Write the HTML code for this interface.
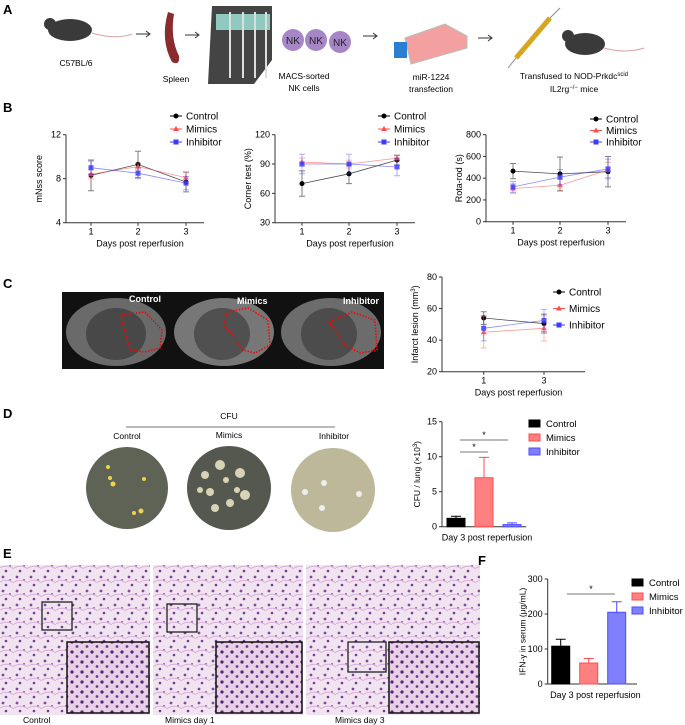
<!DOCTYPE html>
<html><head><meta charset="utf-8"><style>
body{margin:0;width:685px;height:725px;background:#fff;overflow:hidden;font-family:"Liberation Sans",sans-serif}
svg{position:absolute;left:0;top:0}
</style></head><body>
<svg id="fig" width="685" height="725" viewBox="0 0 685 725" font-family="Liberation Sans, sans-serif">
<defs>
<pattern id="he" width="14" height="14" patternUnits="userSpaceOnUse">
<rect width="14" height="14" fill="#f1e4f0"/>
<circle cx="3" cy="3" r="1.4" fill="#7a4d9a"/><circle cx="10" cy="6" r="1.1" fill="#9a6ab8"/>
<circle cx="6" cy="11" r="1.3" fill="#6a4090"/><path d="M0 8 Q7 4 14 9" stroke="#d9b0d9" fill="none"/>
</pattern>
<pattern id="he2" width="10" height="10" patternUnits="userSpaceOnUse">
<rect width="10" height="10" fill="#ead0e6"/>
<circle cx="2" cy="2" r="1.6" fill="#4a2578"/><circle cx="7" cy="6.5" r="1.4" fill="#6a3a90"/>
</pattern>
</defs>
<g font-weight="bold" font-size="13">
<text x="3" y="14">A</text>
<text x="3" y="112">B</text>
<text x="3" y="288">C</text>
<text x="3" y="418">D</text>
<text x="3" y="558">E</text>
<text x="478" y="565">F</text>
</g>
<!-- Panel A -->
<g font-size="8.5" text-anchor="middle">
<ellipse cx="70" cy="30" rx="22" ry="11" fill="#3a3a3a"/><circle cx="50" cy="24" r="6" fill="#3a3a3a"/>
<path d="M92 33 Q115 40 132 34" stroke="#d9a3a3" fill="none"/>
<path d="M136 34 h14 M146 31 l4 3 -4 3" stroke="#333" fill="none"/>
<path d="M168 12 Q160 40 172 62 Q180 66 179 56 Q170 38 174 14 Z" fill="#8a2c2c"/>
<path d="M185 35 h14 M195 32 l4 3 -4 3" stroke="#333" fill="none"/>
<path d="M212 6 h60 v54 l-18 24 h-46 z" fill="#444"/>
<rect x="216" y="14" width="54" height="16" fill="#8fc9c0"/>
<g stroke="#ddd" stroke-width="2"><path d="M230 12 v66 M243 12 v66 M255 12 v66 M266 12 v66"/></g>
<circle cx="293" cy="40" r="11" fill="#a786c8"/><circle cx="316" cy="40" r="11" fill="#a786c8"/><circle cx="340" cy="42" r="11" fill="#a786c8"/>
<g font-size="10" fill="#222"><text x="293" y="44">NK</text><text x="316" y="44">NK</text><text x="340" y="46">NK</text></g>
<path d="M363 36 h14 M373 33 l4 3 -4 3" stroke="#333" fill="none"/>
<path d="M405 38 l40 -14 l22 12 v12 l-56 16 z" fill="#f2a0a0" stroke="#bbb"/>
<rect x="394" y="42" width="13" height="16" fill="#2a7fd0"/>
<path d="M478 38 h14 M488 35 l4 3 -4 3" stroke="#333" fill="none"/>
<path d="M516 58 L550 18" stroke="#d7a520" stroke-width="5"/>
<path d="M516 58 L508 68 M550 18 L560 8" stroke="#888"/>
<ellipse cx="585" cy="44" rx="20" ry="11" fill="#3a3a3a"/><circle cx="568" cy="36" r="6" fill="#3a3a3a"/>
<path d="M604 48 Q625 54 644 48" stroke="#d9a3a3" fill="none"/>
<text x="76" y="66">C57BL/6</text><text x="176" y="82">Spleen</text>
<text x="304" y="79">MACS-sorted</text><text x="304" y="91">NK cells</text>
<text x="431" y="80">miR-1224</text><text x="431" y="92">transfection</text>
<text x="574" y="79">Transfused to NOD-Prkdc<tspan font-size="6" dy="-3">scid</tspan></text>
<text x="574" y="92">IL2rg<tspan font-size="6" dy="-3">−/−</tspan><tspan dy="3"> mice</tspan></text>
</g>
<!-- Panel C MRI -->
<g>
<rect x="62" y="292" width="322" height="77" fill="#111"/>
<ellipse cx="116" cy="332" rx="50" ry="34" fill="#6a6a6a"/><ellipse cx="116" cy="334" rx="30" ry="26" fill="#484848"/>
<ellipse cx="224" cy="332" rx="50" ry="34" fill="#777"/><ellipse cx="222" cy="334" rx="28" ry="26" fill="#505050"/>
<ellipse cx="331" cy="332" rx="50" ry="34" fill="#6c6c6c"/><ellipse cx="329" cy="334" rx="28" ry="26" fill="#4c4c4c"/>
<g fill="none" stroke="#f00" stroke-width="1.5" stroke-dasharray="1.5 1.5">
<path d="M121 315 L145 312 L162 330 L160 348 L145 352 L130 350 L127 338 L123 325 Z"/>
<path d="M227 312 L248 308 L268 320 L270 345 L255 353 L243 350 L233 336 L224 326 Z"/>
<path d="M329 322 L352 312 L375 320 L377 350 L360 353 L345 345 L337 333 Z"/>
</g>
<g fill="#fff" font-weight="bold" font-size="9"><text x="129" y="302">Control</text><text x="237" y="304">Mimics</text><text x="343" y="304">Inhibitor</text></g>
</g>
<!-- Panel D plates -->
<g font-size="8.5" text-anchor="middle">
<text x="229" y="419">CFU</text><line x1="126" y1="427" x2="335" y2="427" stroke="#777"/>
<text x="127" y="439">Control</text><text x="229" y="438">Mimics</text><text x="334" y="439">Inhibitor</text>
<circle cx="127" cy="488" r="41" fill="#5f6356"/>
<circle cx="229" cy="488" r="42" fill="#55584f"/>
<circle cx="333" cy="490" r="42" fill="#bdb899"/>
<g fill="#f2d24a"><circle cx="108" cy="467" r="2"/><circle cx="110" cy="478" r="2"/><circle cx="113" cy="484" r="2.5"/><circle cx="144" cy="479" r="2"/><circle cx="134" cy="513" r="2"/><circle cx="141" cy="511" r="2.5"/></g>
<g fill="#d9d3b5"><circle cx="220" cy="465" r="5"/><circle cx="205" cy="475" r="4"/><circle cx="240" cy="473" r="5"/><circle cx="210" cy="492" r="4"/><circle cx="245" cy="495" r="5"/><circle cx="230" cy="503" r="4"/><circle cx="215" cy="508" r="4"/><circle cx="237" cy="490" r="3"/><circle cx="200" cy="490" r="3"/><circle cx="226" cy="480" r="3"/></g>
<g fill="#eee"><circle cx="324" cy="483" r="3"/><circle cx="305" cy="492" r="3"/><circle cx="359" cy="494" r="3"/><circle cx="322" cy="508" r="3"/></g>
</g>
<!-- Panel E histology -->
<g font-size="8.5">
<rect x="0" y="565" width="150" height="150" fill="url(#he)"/>
<rect x="153" y="565" width="150" height="150" fill="url(#he)"/>
<rect x="306" y="565" width="174" height="150" fill="url(#he)"/>
<g fill="none" stroke="#111" stroke-width="1.2">
<rect x="42" y="602" width="30" height="28"/><rect x="167" y="604" width="30" height="28"/><rect x="348" y="642" width="38" height="30"/>
</g>
<rect x="67" y="642" width="82" height="71" fill="url(#he2)" stroke="#111" stroke-width="1.5"/>
<rect x="216" y="642" width="86" height="71" fill="url(#he2)" stroke="#111" stroke-width="1.5"/>
<rect x="389" y="642" width="90" height="71" fill="url(#he2)" stroke="#111" stroke-width="1.5"/>
<text x="23" y="723">Control</text><text x="165" y="723">Mimics day 1</text><text x="335" y="723">Mimics day 3</text>
</g>
<g id="charts"></g>
</svg>
<script>
// ---- data ----
const days3 = [1, 2, 3];
const days2 = [1, 3];
const mnssControl = [8.3, 9.3, 7.7], mnssControlErr = [1.4, 1.2, 0.9];
const mnssMimics = [8.4, 9.1, 8.1], mnssMimicsErr = [0.4, 0.3, 0.5];
const mnssInhib = [9.0, 8.5, 7.6], mnssInhibErr = [0.6, 0.5, 0.6];
const cornerControl = [70, 80, 94], cornerControlErr = [13, 10, 5];
const cornerMimics = [92, 90, 96], cornerMimicsErr = [4, 4, 3];
const cornerInhib = [90, 90, 87], cornerInhibErr = [10, 10, 9];
const rotaControl = [465, 440, 460], rotaControlErr = [70, 155, 140];
const rotaMimics = [305, 335, 475], rotaMimicsErr = [45, 55, 70];
const rotaInhib = [320, 410, 485], rotaInhibErr = [50, 70, 90];
const infControl = [54, 50.5], infControlErr = [4, 6];
const infMimics = [45, 47.5], infMimicsErr = [10, 8];
const infInhib = [47.5, 52.5], infInhibErr = [8, 7];
const groups = ["Control", "Mimics", "Inhibitor"];
const cfuVals = [1.2, 7.0, 0.3], cfuErr = [0.3, 2.9, 0.25];
const cfuTicks = [0, 5, 10, 15];
const ifnVals = [108, 60, 205], ifnErr = [20, 13, 30];
const ifnTicks = [0, 100, 200, 300];

const NS = "http://www.w3.org/2000/svg";
const root = document.getElementById("charts");
function mk(tag, at, parent) {
  const e = document.createElementNS(NS, tag);
  for (const k in at) e.setAttribute(k, at[k]);
  (parent || root).appendChild(e);
  return e;
}
function txt(x, y, s, at, parent) { const t = mk("text", Object.assign({x, y, "font-size": 9}, at), parent); t.textContent = s; return t; }
const colors = ["#000", "#ff4d4d", "#3b3bff"];

function lineChart(o) {
  const g = mk("g", {});
  
  
  const ys = v => o.y0 + (v - o.ymin) / (o.ymax - o.ymin) * (o.y1 - o.y0);
  const xs = d => o.xpx[o.days.indexOf(d)];
  mk("path", {d: `M${o.ax} ${o.y1} V${o.y0} H${o.axEnd}`, stroke: "#333", fill: "none"}, g);
  o.yticks.forEach(t => {
    mk("line", {x1: o.ax - 3, x2: o.ax, y1: ys(t), y2: ys(t), stroke: "#333"}, g);
    txt(o.ax - 5, ys(t) + 3, t, {"text-anchor": "end"}, g);
  });
  o.days.forEach(d => {
    mk("line", {x1: xs(d), x2: xs(d), y1: o.y0, y2: o.y0 + 3, stroke: "#333"}, g);
    txt(xs(d), o.y0 + 12, d, {"text-anchor": "middle"}, g);
  });
  txt((o.ax + o.axEnd) / 2 + 5, o.y0 + 24, "Days post reperfusion", {"text-anchor": "middle"}, g);
  const yl = txt(0, 0, "", {"text-anchor": "middle", transform: `translate(${o.ax - 24},${(o.y0 + o.y1) / 2}) rotate(-90)`}, g);
  yl.innerHTML = o.ylab;
  o.series.forEach((s, i) => {
    const c = colors[i];
    const sg = mk("g", {opacity: i ? 0.85 : 1}, g);
    
    
    mk("path", {d: s.v.map((v, j) => (j ? "L" : "M") + xs(o.days[j]) + " " + ys(v)).join(""), stroke: c, fill: "none", "stroke-width": 0.8, "stroke-opacity": 0.7}, sg);
    s.v.forEach((v, j) => {
      const x = xs(o.days[j]);
      mk("path", {d: `M${x} ${ys(v - s.e[j])}V${ys(v + s.e[j])}M${x - 3} ${ys(v - s.e[j])}h6M${x - 3} ${ys(v + s.e[j])}h6`, stroke: c, "stroke-opacity": 0.5, fill: "none"}, sg);
      if (i === 0) mk("circle", {cx: x, cy: ys(v), r: 2.5, fill: c}, sg);
      else if (i === 1) mk("path", {d: `M${x} ${ys(v) - 3}l3 5h-6z`, fill: c}, sg);
      else mk("rect", {x: x - 2.5, y: ys(v) - 2.5, width: 5, height: 5, fill: c}, sg);
    });
  });
  groups.forEach((n, i) => {
    const ly = o.ly + i * o.ldy, lx = o.lx, c = colors[i];
    const lg = mk("g", {}, g);
    
    
    mk("line", {x1: lx, x2: lx + 12, y1: ly, y2: ly, stroke: c}, lg);
    if (i === 0) mk("circle", {cx: lx + 6, cy: ly, r: 2.5, fill: c}, lg);
    else if (i === 1) mk("path", {d: `M${lx + 6} ${ly - 3}l3 5h-6z`, fill: c}, lg);
    else mk("rect", {x: lx + 3.5, y: ly - 2.5, width: 5, height: 5, fill: c}, lg);
    txt(lx + 16, ly + 3.5, n, {"font-size": 10}, lg);
  });
}
lineChart({name: "mnss-chart", days: days3, xpx: [91, 138, 186], ax: 66, axEnd: 204, y0: 222.7, y1: 134.7, ymin: 4, ymax: 12, yticks: [4, 8, 12], ylab: "mNss score",
  series: [{v: mnssControl, e: mnssControlErr}, {v: mnssMimics, e: mnssMimicsErr}, {v: mnssInhib, e: mnssInhibErr}], lx: 170, ly: 116, ldy: 13});
lineChart({name: "corner-test-chart", days: days3, xpx: [302, 349, 397], ax: 275, axEnd: 415, y0: 222.7, y1: 134.7, ymin: 30, ymax: 120, yticks: [30, 60, 90, 120], ylab: "Corner test (%)",
  series: [{v: cornerControl, e: cornerControlErr}, {v: cornerMimics, e: cornerMimicsErr}, {v: cornerInhib, e: cornerInhibErr}], lx: 378, ly: 116, ldy: 13});
lineChart({name: "rota-rod-chart", days: days3, xpx: [513, 560, 608], ax: 486, axEnd: 626, y0: 221.7, y1: 134.7, ymin: 0, ymax: 800, yticks: [0, 200, 400, 600, 800], ylab: "Rota-rod (s)",
  series: [{v: rotaControl, e: rotaControlErr}, {v: rotaMimics, e: rotaMimicsErr}, {v: rotaInhib, e: rotaInhibErr}], lx: 590, ly: 119, ldy: 11.5});
lineChart({name: "infarct-lesion-chart", days: days2, xpx: [483.7, 544], ax: 442, axEnd: 585, y0: 371.7, y1: 277, ymin: 20, ymax: 80, yticks: [20, 40, 60, 80], ylab: "Infarct lesion (mm<tspan font-size='6' dy='-3'>3</tspan><tspan dy='3'>)</tspan>",
  series: [{v: infControl, e: infControlErr}, {v: infMimics, e: infMimicsErr}, {v: infInhib, e: infInhibErr}], lx: 553, ly: 292, ldy: 16.5});

const fills = ["#000", "#ff8080", "#8080ff"], strokes = ["#000", "#ff4d4d", "#4d4dff"];
function barChart(o) {
  const g = mk("g", {});
  
  
  const ys = v => o.y0 - v / o.ymax * (o.y0 - o.y1);
  mk("path", {d: `M${o.ax} ${o.y1} V${o.y0} H${o.axEnd}`, stroke: "#333", fill: "none"}, g);
  o.ticks.forEach(t => {
    mk("line", {x1: o.ax - 3, x2: o.ax, y1: ys(t), y2: ys(t), stroke: "#333"}, g);
    txt(o.ax - 5, ys(t) + 3, t, {"text-anchor": "end"}, g);
  });
  o.vals.forEach((v, i) => {
    const x = o.ax + o.bx0 + i * o.step;
    const b = mk("rect", {x, y: ys(v), width: o.bw, height: o.y0 - ys(v), fill: fills[i], stroke: strokes[i]}, g);
    
    
    const cx = x + o.bw / 2;
    mk("path", {d: `M${cx} ${ys(v)}V${ys(v + o.err[i])}M${cx - 5} ${ys(v + o.err[i])}h10`, stroke: strokes[i], fill: "none"}, g);
  });
  o.sig.forEach(s => {
    mk("line", {x1: s[0], x2: s[1], y1: s[2], y2: s[2], stroke: "#777"}, g);
    txt((s[0] + s[1]) / 2, s[2] - 2, "*", {"text-anchor": "middle"}, g);
  });
  txt((o.ax + o.axEnd) / 2 + 3, o.y0 + 14, "Day 3 post reperfusion", {"text-anchor": "middle"}, g);
  const yl = txt(0, 0, "", {"text-anchor": "middle", "font-size": 8.5, transform: `translate(${o.ax - 22},${(o.y0 + o.y1) / 2}) rotate(-90)`}, g);
  yl.innerHTML = o.ylab;
  groups.forEach((n, i) => {
    const lg = mk("g", {}, g);
    
    
    mk("rect", {x: o.lx, y: o.ly + i * 14 - 4, width: 11, height: 7, fill: fills[i], stroke: strokes[i]}, lg);
    txt(o.lx + 17, o.ly + i * 14 + 3, n, {"font-size": 9.5}, lg);
  });
}
barChart({name: "cfu-bar-chart", vals: cfuVals, err: cfuErr, ticks: cfuTicks, ymax: 15, ax: 442, axEnd: 526, y0: 526.7, y1: 421.7, bx0: 5, step: 28, bw: 18,
  sig: [[460, 488, 452], [460, 508, 440]], ylab: "CFU / lung (×10<tspan font-size='6' dy='-3'>3</tspan><tspan dy='3'>)</tspan>", lx: 529, ly: 424});
barChart({name: "ifn-gamma-bar-chart", vals: ifnVals, err: ifnErr, ticks: ifnTicks, ymax: 300, ax: 547.7, axEnd: 637, y0: 684, y1: 579, bx0: 4, step: 28, bw: 18,
  sig: [[567, 615, 594]], ylab: "IFN-γ in serum (μg/mL)", lx: 632, ly: 583});
</script>
</body></html>
